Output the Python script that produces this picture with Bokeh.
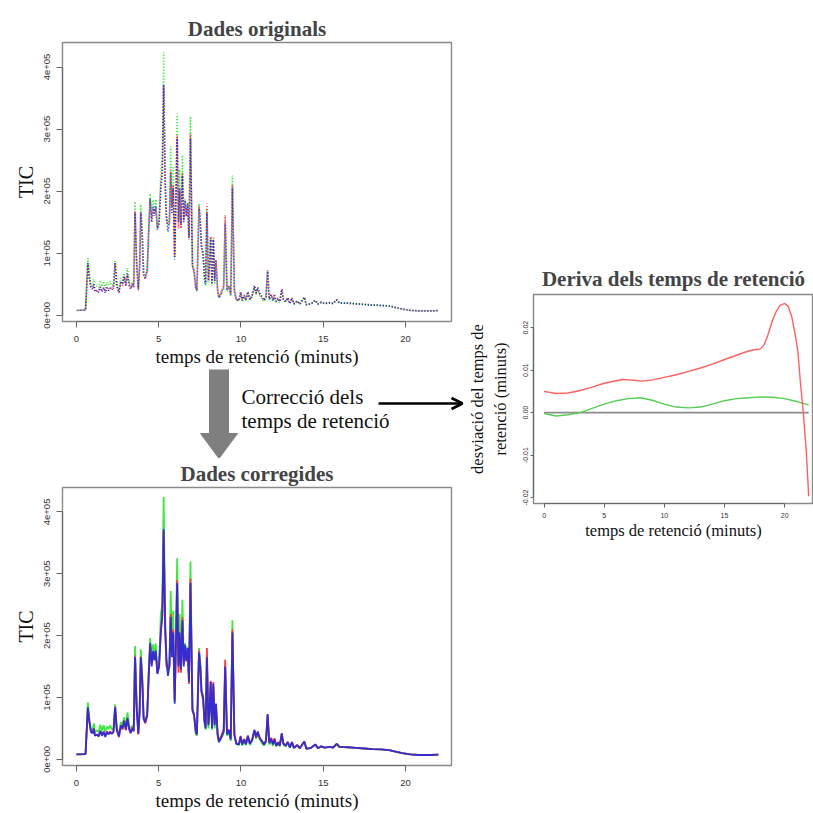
from bokeh.plotting import figure
from bokeh.layouts import row, column
from bokeh.models import (Range1d, FixedTicker, NumeralTickFormatter, Arrow,
                          OpenHead, Label, Spacer)
from bokeh.embed import file_html
from bokeh.resources import INLINE

# ---------------- data ----------------
rt = [0.00, 0.55, 0.62, 0.69, 0.78, 0.88, 0.98, 1.05, 1.12, 1.25, 1.35, 1.45, 1.55, 1.65,
      1.75, 1.85, 1.95, 2.05, 2.15, 2.25, 2.35, 2.45, 2.58, 2.70, 2.80, 2.90, 3.00, 3.10,
      3.20, 3.30, 3.40, 3.48, 3.56, 3.66, 3.76, 3.84, 3.91, 4.00, 4.08, 4.18, 4.30, 4.40,
      4.48, 4.57, 4.66, 4.74, 4.82, 4.92, 5.02, 5.13, 5.22, 5.30, 5.39, 5.47, 5.56, 5.65,
      5.73, 5.80, 5.88, 5.97, 6.04, 6.12, 6.20, 6.27, 6.35, 6.44, 6.52, 6.60, 6.68, 6.76,
      6.84, 6.93, 7.05, 7.15, 7.25, 7.32, 7.45, 7.53, 7.60, 7.70, 7.78, 7.85, 7.93, 8.02,
      8.09, 8.16, 8.24, 8.32, 8.40, 8.48, 8.58, 8.66, 8.80, 8.95, 9.04, 9.15, 9.27, 9.38,
      9.48, 9.60, 9.72, 9.88, 9.98, 10.08, 10.20, 10.30, 10.42, 10.54, 10.68, 10.82, 10.92,
      11.02, 11.14, 11.26, 11.40, 11.52, 11.62, 11.72, 11.84, 11.94, 12.04, 12.14, 12.26,
      12.36, 12.48, 12.58, 12.72, 12.85, 12.97, 13.10, 13.22, 13.42, 13.58, 13.85, 13.98,
      14.28, 14.53, 14.68, 14.88, 15.08, 15.38, 15.60, 15.82, 15.98, 16.50, 17.00, 17.50,
      18.00, 18.50, 19.00, 19.40, 19.80, 20.30, 20.80, 21.50, 22.00]

tic_blue = [8000, 8500, 45000, 84000, 62000, 44000, 42000, 50000, 38000, 40000, 37000, 46000,
            38000, 45000, 36000, 44000, 40000, 44000, 41000, 45000, 84000, 48000, 37000, 55000,
            50000, 62000, 48000, 67000, 50000, 43000, 50000, 46000, 165000, 80000, 42000,
            75000, 165000, 125000, 65000, 60000, 72000, 140000, 188000, 150000, 175000, 160000,
            176000, 138000, 150000, 205000, 235000, 372000, 215000, 160000, 135000, 150000,
            230000, 165000, 205000, 90000, 180000, 285000, 150000, 205000, 145000, 225000,
            150000, 185000, 160000, 180000, 125000, 285000, 80000, 72000, 45000, 40000, 172000,
            150000, 110000, 100000, 62000, 50000, 165000, 55000, 80000, 125000, 50000, 122000,
            55000, 90000, 40000, 28000, 35000, 45000, 150000, 40000, 47000, 32000, 205000,
            40000, 25000, 24000, 37000, 24000, 32000, 24000, 38000, 25000, 32000, 48000, 36000,
            45000, 35000, 30000, 24000, 30000, 73000, 26000, 33000, 24000, 32000, 22000, 27000,
            22000, 42000, 25000, 22000, 28000, 19000, 28000, 18000, 23000, 18000, 29000, 17000,
            19000, 24000, 18000, 21000, 19000, 20000, 19000, 25000, 20000, 19500, 18500, 17500,
            16500, 16000, 15000, 12500, 10000, 8000, 7000, 7000, 7500]

tic_green = [8000, 8500, 48000, 92000, 66000, 47000, 48000, 58000, 44000, 47000, 44000, 56000,
             46000, 55000, 44000, 53000, 49000, 55000, 48000, 50000, 89000, 50000, 40000, 60000,
             56000, 68000, 52000, 76000, 55000, 47000, 55000, 52000, 183000, 90000, 45000,
             82000, 178000, 135000, 70000, 62000, 74000, 145000, 196000, 162000, 186000, 168000,
             187000, 140000, 152000, 236000, 250000, 424000, 228000, 163000, 145000, 155000,
             272000, 180000, 240000, 93000, 190000, 325000, 155000, 235000, 150000, 258000,
             158000, 188000, 168000, 182000, 130000, 320000, 82000, 72000, 42000, 38000, 180000,
             155000, 112000, 102000, 58000, 48000, 172000, 50000, 75000, 124000, 48000, 118000,
             50000, 85000, 38000, 28000, 35000, 42000, 148000, 38000, 45000, 30000, 225000,
             38000, 25000, 23000, 35000, 22000, 30000, 23000, 36000, 23000, 30000, 45000, 33000,
             42000, 32000, 27000, 22000, 28000, 68000, 24000, 30000, 22000, 30000, 21000, 25000,
             21000, 40000, 24000, 21000, 27000, 19000, 26000, 18000, 23000, 18000, 29000, 17000,
             19000, 24000, 18000, 21000, 19000, 20000, 19000, 25000, 20000, 19500, 18500, 17500,
             16500, 16000, 15000, 12500, 10000, 8000, 7000, 7000, 7500]

tic_red = [8000, 8500, 46000, 82000, 60000, 45000, 43000, 49000, 40000, 39000, 38000, 45000,
           40000, 44000, 38000, 45000, 42000, 45000, 42000, 44000, 85000, 47000, 36000, 54000,
           48000, 63000, 47000, 65000, 48000, 42000, 52000, 45000, 168000, 85000, 40000,
           80000, 166000, 128000, 68000, 58000, 70000, 145000, 185000, 155000, 170000, 165000,
           172000, 140000, 150000, 210000, 232000, 368000, 210000, 150000, 150000, 148000,
           235000, 175000, 210000, 95000, 175000, 290000, 140000, 200000, 140000, 230000,
           155000, 180000, 158000, 175000, 122000, 292000, 78000, 70000, 46000, 40000, 176000,
           148000, 108000, 95000, 64000, 52000, 180000, 58000, 80000, 127000, 52000, 125000,
           58000, 88000, 42000, 30000, 38000, 48000, 161000, 45000, 48000, 35000, 210000,
           40000, 25000, 25000, 38000, 25000, 33000, 25000, 38000, 26000, 31000, 46000, 35000,
           44000, 34000, 30000, 25000, 30000, 72000, 27000, 35000, 25000, 34000, 23000, 28000,
           22000, 42000, 26000, 23000, 28000, 20000, 28000, 19000, 23000, 18000, 29000, 17000,
           19000, 24000, 18000, 21000, 19000, 20000, 19000, 25000, 20000, 19500, 18500, 17500,
           16500, 16000, 15000, 12500, 10000, 8000, 7000, 7000, 7500]

x_ticks = [0, 5, 10, 15, 20]
tic_ticks = [0, 100000, 200000, 300000, 400000]
tic_tick_labels = ["0e+00", "1e+05", "2e+05", "3e+05", "4e+05"]

drift_red_t = [0, 1, 2, 3, 4, 5, 6, 6.5, 7, 7.5, 8, 8.5, 9, 10, 11, 12, 13, 14, 15, 16, 17,
               17.5, 18, 18.3, 18.6, 19, 19.3, 19.6, 20, 20.3, 20.6, 20.9, 21.1, 21.3, 21.55,
               21.8, 22]
drift_red = [0.0050, 0.0045, 0.0046, 0.0052, 0.0060, 0.0069, 0.0075, 0.0078, 0.0077, 0.0076,
             0.0074, 0.0075, 0.0077, 0.0083, 0.0089, 0.0097, 0.0105, 0.0114, 0.0125, 0.0135,
             0.0145, 0.0148, 0.0150, 0.0160, 0.0182, 0.0218, 0.0238, 0.0252, 0.0257, 0.0250,
             0.0225, 0.0180, 0.0145, 0.0075, 0.0000, -0.0090, -0.0197]
drift_green_t = [0, 1, 2, 3, 4, 5, 6, 7, 8, 9, 10, 11, 12, 13, 14, 15, 16, 17, 18, 19, 20, 21, 22]
drift_green = [-0.0002, -0.0008, -0.0005, 0.0000, 0.0010, 0.0020, 0.0028, 0.0033, 0.0035,
               0.0029, 0.0020, 0.0013, 0.0011, 0.0013, 0.0020, 0.0028, 0.0033, 0.0035, 0.0037,
               0.0036, 0.0033, 0.0026, 0.0018]
drift_ticks = [-0.02, -0.01, 0.0, 0.01, 0.02]

GREEN = "#3ee83e"
RED = "#ff3b3b"
BLUE = "#2a2ad6"
SERIF = "Liberation Serif"
SANS = "Liberation Sans"


def style_axes(p, xlab, ylab, tick_size, lab_size_x, lab_size_y, yticks, ybounds):
    for ax in p.xaxis + p.yaxis:
        ax.axis_line_color = "#666666"
        ax.axis_line_width = 1.2
        ax.major_tick_line_color = "#666666"
        ax.minor_tick_line_color = None
        ax.major_tick_in = 0
        ax.major_label_text_font = SANS
        ax.major_label_text_font_size = tick_size
        ax.major_label_text_color = "#333333"
        ax.axis_label_text_font = SERIF
        ax.axis_label_text_font_style = "normal"
        ax.axis_label_text_color = "#111111"
    p.xaxis.ticker = FixedTicker(ticks=x_ticks)
    p.xaxis.bounds = (x_ticks[0], x_ticks[-1])
    p.xaxis.axis_label = xlab
    p.xaxis.axis_label_text_font_size = lab_size_x
    p.yaxis.ticker = FixedTicker(ticks=yticks)
    p.yaxis.bounds = ybounds
    p.yaxis.major_label_orientation = "vertical"
    p.yaxis.axis_label = ylab
    p.yaxis.axis_label_text_font_size = lab_size_y
    p.xgrid.visible = False
    p.ygrid.visible = False
    p.outline_line_color = "#8a8a8a"
    p.outline_line_width = 1.4


def chrom_fig(title, height, top, bottom, dotted):
    p = figure(width=464, height=height, x_range=Range1d(-0.85, 22.8),
               y_range=Range1d(-10000, 439500), output_backend="svg",
               toolbar_location=None, min_border_left=62, min_border_right=13,
               min_border_top=top, min_border_bottom=bottom,
               background_fill_color="white", border_fill_color="white")
    p.title.text = title
    p.title.text_font = SERIF
    p.title.text_font_style = "bold"
    p.title.text_font_size = "21px"
    p.title.align = "center"
    p.title.standoff = 3
    style_axes(p, "temps de retenció (minuts)", "TIC", "9.5px", "19px", "20px",
               tic_ticks, (tic_ticks[0], tic_ticks[-1]))
    p.yaxis.major_label_overrides = dict(zip(tic_ticks, tic_tick_labels))
    p.xaxis.major_tick_out = 6
    p.xaxis.major_label_standoff = 8
    p.xaxis.axis_label_standoff = 1
    p.yaxis.major_tick_out = 6
    p.yaxis.major_label_standoff = 6
    p.yaxis.axis_label_standoff = 5
    if dotted:
        for i, (ys, c) in enumerate([(tic_green, GREEN), (tic_red, RED), (tic_blue, BLUE)]):
            p.line(rt, ys, line_color=c, line_width=1.7, line_dash="1 2", line_dash_offset=i)
    else:
        p.line(rt, tic_green, line_color=GREEN, line_width=1.8)
        p.line(rt, tic_red, line_color=RED, line_width=1.8)
        p.line(rt, tic_blue, line_color=BLUE, line_width=1.8, line_alpha=0.95)
    return p


top_fig = chrom_fig("Dades originals", 369, 42, 46, True)
bot_fig = chrom_fig("Dades corregides", 355, 29, 45, False)

# ---- middle annotation strip (page pixel coordinates) ----
mid = figure(width=464, height=89, x_range=Range1d(0, 464), y_range=Range1d(458, 369),
             output_backend="svg", toolbar_location=None, min_border=0,
             x_axis_type=None, y_axis_type=None,
             background_fill_color="white", border_fill_color="white")
mid.outline_line_color = None
mid.xgrid.visible = False
mid.ygrid.visible = False
mid.patch([209, 228, 228, 237, 218.5, 200, 209], [367, 367, 433, 433, 458, 433, 433],
          fill_color="#7f7f7f", line_color="#7f7f7f")
mid.add_layout(Label(x=241, y=396, text="Correcció dels", text_font=SERIF,
                     text_font_size="21px", text_baseline="middle", text_color="#111111"))
mid.add_layout(Label(x=241, y=420, text="temps de retenció", text_font=SERIF,
                     text_font_size="21px", text_baseline="middle", text_color="#111111"))
mid.add_layout(Arrow(x_start=378, y_start=403, x_end=462, y_end=403, line_width=2.6,
                     line_color="black",
                     end=OpenHead(size=11, line_width=2.6, line_color="black")))

# ---- drift panel ----
drift = figure(width=349, height=287, x_range=Range1d(-0.88, 22.4),
               y_range=Range1d(-0.0214, 0.0278), output_backend="svg",
               toolbar_location=None, min_border_left=67, min_border_right=0,
               min_border_top=36, min_border_bottom=42,
               background_fill_color="white", border_fill_color="white")
drift.title.text = "Deriva dels temps de retenció"
drift.title.text_font = SERIF
drift.title.text_font_style = "bold"
drift.title.text_font_size = "21px"
drift.title.align = "center"
drift.title.standoff = 8
style_axes(drift, "temps de retenció (minuts)", "desviació del temps de\nretenció (minuts)",
           "7px", "16.5px", "16.5px", drift_ticks, (drift_ticks[0], drift_ticks[-1]))
drift.yaxis.formatter = NumeralTickFormatter(format="0.00")
drift.xaxis.major_tick_out = 4
drift.xaxis.major_label_standoff = 5
drift.xaxis.axis_label_standoff = 0
drift.yaxis.major_tick_out = 3
drift.yaxis.major_label_standoff = 2
drift.yaxis.axis_label_standoff = 11
drift.line([drift_red_t[0], drift_red_t[-1]], [drift_ticks[2], drift_ticks[2]],
           line_color="#8c8c8c", line_width=1.6)
drift.line(drift_green_t, drift_green, line_color="#55cc55", line_width=1.4)
drift.line(drift_red_t, drift_red, line_color="#ff6060", line_width=1.4)

left = column(top_fig, row(mid, spacing=0), bot_fig, spacing=0)
right = column(Spacer(width=349, height=258), drift, spacing=0)
layout = row(left, right, spacing=0)

open("out.html", "w").write(file_html(layout, INLINE))
